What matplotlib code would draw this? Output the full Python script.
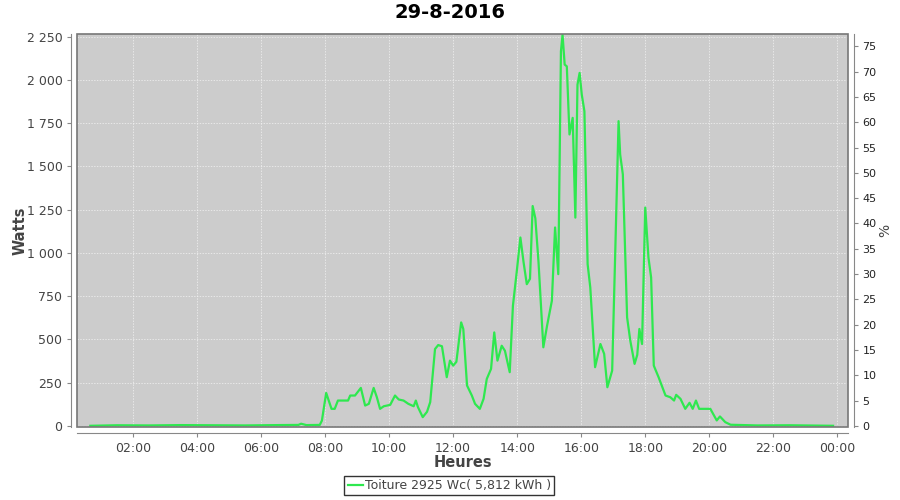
import pandas as pd
import matplotlib
matplotlib.use("Agg")
import matplotlib.pyplot as plt
import matplotlib.dates as mdates
from matplotlib.ticker import FuncFormatter, MultipleLocator
from matplotlib.patches import Rectangle

# readings of the day (time, watts)
times = ["00:40", "01:30", "02:30", "03:30", "04:30", "05:30", "06:30", "07:10", "07:15", "07:25", "07:50",
         "07:54", "08:02", "08:12", "08:18", "08:24", "08:43", "08:47", "08:56", "09:07", "09:15",
         "09:22", "09:31", "09:37", "09:43", "09:50", "10:02", "10:11", "10:18", "10:27", "10:36",
         "10:46", "10:50", "10:54", "11:03", "11:11", "11:17", "11:26", "11:32", "11:39", "11:48",
         "11:54", "12:00", "12:06", "12:15", "12:19", "12:26", "12:35", "12:41", "12:50", "12:57",
         "13:03", "13:11", "13:17", "13:23", "13:31", "13:37", "13:46", "13:52", "13:59", "14:06",
         "14:12", "14:18", "14:24", "14:29", "14:34", "14:40", "14:49", "14:56", "15:05", "15:11",
         "15:17", "15:22", "15:25", "15:29", "15:33", "15:38", "15:44", "15:49", "15:53", "15:57",
         "16:01", "16:06", "16:12", "16:17", "16:26", "16:36", "16:43", "16:49", "16:58", "17:04",
         "17:10", "17:13", "17:18", "17:26", "17:32", "17:40", "17:45", "17:49", "17:54", "18:00",
         "18:06", "18:11", "18:16", "18:25", "18:38", "18:47", "18:54", "18:58", "19:06", "19:15",
         "19:23", "19:29", "19:35", "19:41", "20:02", "20:14", "20:20", "20:30", "20:40", "21:30",
         "22:30", "23:52"]
watts = [0, 3, 2, 4, 3, 2, 4, 5, 12, 4, 5,
         30, 190, 98, 98, 146, 146, 175, 175, 219, 117,
         127, 219, 165, 98, 113, 121, 175, 152, 146, 127,
         113, 146, 108, 50, 81, 137, 444, 467, 460, 281,
         377, 348, 370, 598, 560, 233, 175, 127, 98, 156,
         271, 329, 540, 377, 463, 434, 310, 694, 887, 1089,
         945, 819, 850, 1271, 1200, 945, 454, 579, 723, 1147,
         877, 2166, 2262, 2089, 2079, 1685, 1781, 1204, 1973, 2041,
         1916, 1819, 935, 800, 339, 473, 416, 223, 319, 1031,
         1762, 1569, 1454, 627, 492, 358, 410, 560, 473, 1262,
         973, 858, 348, 281, 175, 165, 146, 179, 156, 98,
         133, 98, 146, 98, 98, 31, 54, 21, 6, 2,
         3, 0]
peak_wc = 2925
legend_label = "Toiture 2925 Wc( 5,812 kWh )"

x = pd.to_datetime("2016-08-29 " + pd.Series(times))

grey = "#444444"
fig = plt.figure(figsize=(9, 5), dpi=100)
ax = fig.add_axes([77 / 900, 73 / 500, 771 / 900, 393 / 500])
ax.set_facecolor("#cccccc")

ax.plot(x, watts, color="#2ee84f", lw=1.6, label=legend_label)

ax.set_xlim(pd.Timestamp("2016-08-29 00:15"), pd.Timestamp("2016-08-30 00:20"))
ax.set_ylim(-7, 2266)
ax.yaxis.set_major_locator(MultipleLocator(250))
ax.yaxis.set_major_formatter(FuncFormatter(lambda v, p: f"{int(v):,}".replace(",", " ")))
ax.xaxis.set_major_locator(mdates.HourLocator(byhour=range(0, 24, 2)))
ax.xaxis.set_major_formatter(mdates.DateFormatter("%H:%M"))

ax.grid(True, color="#f4f4f4", ls=(0, (2, 2)), lw=0.5)
ax.tick_params(colors="#888888", labelcolor=grey, labelsize=9, length=3)

for s in ax.spines.values():
    s.set_visible(False)
for side in ["left", "bottom"]:
    ax.spines[side].set_visible(True)
    ax.spines[side].set_position(("outward", 4))
    ax.spines[side].set_color("#888888")
ax.add_patch(Rectangle((0, 0), 1, 1, transform=ax.transAxes, fill=False,
                       edgecolor="#777777", lw=1.2, clip_on=False, zorder=5))

sec = ax.secondary_yaxis("right", functions=(lambda w: w / peak_wc * 100, lambda p: p * peak_wc / 100))
sec.spines["right"].set_position(("outward", 4))
sec.spines["right"].set_color("#888888")
sec.yaxis.set_major_locator(MultipleLocator(5))
sec.tick_params(colors="#888888", labelcolor="#222222", labelsize=8, length=3)
sec.set_ylabel("%", color=grey, fontsize=10, labelpad=1)

ax.set_xlabel("Heures", color=grey, fontsize=10.5, fontweight="bold", labelpad=0)
ax.set_ylabel("Watts", color=grey, fontsize=10.5, fontweight="bold", labelpad=0)
ax.yaxis.set_label_coords(-0.064, 0.5)
fig.suptitle("29-8-2016", fontsize=14, fontweight="bold", y=0.993)

leg = ax.legend(loc="upper center", bbox_to_anchor=(0.483, -0.125), frameon=True, fancybox=False,
                fontsize=9, handlelength=1.2, handletextpad=0.2, borderpad=0.25, borderaxespad=0)
leg.get_frame().set_edgecolor("black")
leg.get_frame().set_linewidth(1)
for t in leg.get_texts():
    t.set_color(grey)

plt.savefig("out.png")
